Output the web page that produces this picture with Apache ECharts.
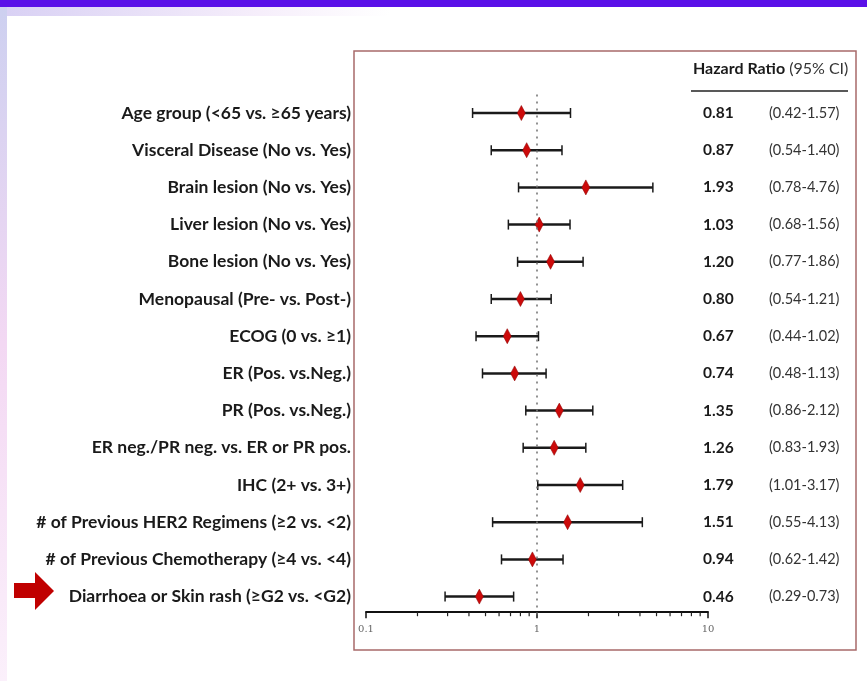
<!DOCTYPE html>
<html><head><meta charset="utf-8">
<script src="https://cdn.jsdelivr.net/npm/echarts@6/dist/echarts.min.js"></script>
<style>html,body{margin:0;padding:0;background:#fff}#c{width:867px;height:681px}</style>
</head><body><div id="c"></div>
<script>
const categories = [
  "Age group (<65 vs. \u226565 years)",
  "Visceral Disease (No vs. Yes)",
  "Brain lesion (No vs. Yes)",
  "Liver lesion (No vs. Yes)",
  "Bone lesion (No vs. Yes)",
  "Menopausal (Pre- vs. Post-)",
  "ECOG (0 vs. \u22651)",
  "ER (Pos. vs.Neg.)",
  "PR (Pos. vs.Neg.)",
  "ER neg./PR neg. vs. ER or PR pos.",
  "IHC (2+ vs. 3+)",
  "# of Previous HER2 Regimens (\u22652 vs. <2)",
  "# of Previous Chemotherapy (\u22654 vs. <4)",
  "Diarrhoea or Skin rash (\u2265G2 vs. <G2)"
];
const hazardRatio = [0.81, 0.87, 1.93, 1.03, 1.20, 0.80, 0.67, 0.74, 1.35, 1.26, 1.79, 1.51, 0.94, 0.46];
const ciLow  = [0.42, 0.54, 0.78, 0.68, 0.77, 0.54, 0.44, 0.48, 0.86, 0.83, 1.01, 0.55, 0.62, 0.29];
const ciHigh = [1.57, 1.40, 4.76, 1.56, 1.86, 1.21, 1.02, 1.13, 2.12, 1.93, 3.17, 4.13, 1.42, 0.73];
const xTickLabels = ["0.1", "1", "10"];
const minorTickValues = [0.2,0.3,0.4,0.5,0.6,0.7,0.8,0.9,2,3,4,5,6,7,8,9];
const headerBold = "Hazard Ratio";
const headerRest = " (95% CI)";

const chart = echarts.init(document.getElementById('c'), null, {renderer:'canvas'});
const FONT = 'Lato';
const AXIS_OFF = -3;

const option = {
  animation: false,
  backgroundColor: '#ffffff',
  grid: { left: 366, right: 159, top: 94.4, height: 520.8 },
  xAxis: {
    type: 'log', logBase: 10, min: 0.1, max: 10, interval: 1,
    offset: AXIS_OFF,
    axisLine: { show: true, lineStyle: { color: '#111', width: 2 } },
    axisTick: { show: true, length: 6, lineStyle: { color: '#111', width: 1.5 } },
    axisLabel: { margin: 12, color: '#666', fontSize: 10, fontFamily: 'DejaVu Serif',
      formatter: function (v) { const e = Math.round(Math.log10(v)) + 1; return xTickLabels[e] || ''; } },
    splitLine: { show: false }, minorTick: { show: false }
  },
  yAxis: {
    type: 'category', inverse: true, data: categories,
    axisLine: { show: false }, axisTick: { show: false }, splitLine: { show: false },
    axisLabel: { margin: 15, color: '#1a1a1a', fontSize: 17.5, fontWeight: 'bold', fontFamily: FONT }
  },
  graphic: [
    { type: 'rect', shape: { x: 0, y: 0, width: 867, height: 7 }, style: { fill: '#5a10e8' }, z: 1 },
    { type: 'rect', shape: { x: 0, y: 7, width: 867, height: 9 },
      style: { fill: new echarts.graphic.LinearGradient(0, 0, 1, 0, [
        { offset: 0, color: '#d8d0f4' }, { offset: 0.3, color: '#f6eefb' }, { offset: 0.45, color: '#ffffff' }]) }, z: 1 },
    { type: 'rect', shape: { x: 0, y: 7, width: 7, height: 674 },
      style: { fill: new echarts.graphic.LinearGradient(0, 0, 0, 1, [
        { offset: 0, color: '#cdd0f0' }, { offset: 0.5, color: '#f3d8f3' }, { offset: 1, color: '#fbf0fb' }]) }, z: 1 },
    { type: 'rect', shape: { x: 354, y: 51, width: 502, height: 599 },
      style: { fill: 'none', stroke: '#a86a6a', lineWidth: 1.5 }, z: 2 },
    { type: 'text', left: 693, top: 61, z: 3,
      style: { text: '{b|' + headerBold + '}{n|' + headerRest + '}',
        rich: { b: { fontFamily: FONT, fontWeight: 'bold', fontSize: 16, fill: '#1a1a1a' },
                n: { fontFamily: FONT, fontSize: 16, fill: '#333' } } } },
    { type: 'line', shape: { x1: 691, y1: 91, x2: 848, y2: 91 }, style: { stroke: '#222', lineWidth: 1.5 }, z: 3 },
    { type: 'polygon', z: 3,
      shape: { points: [[14,583],[35,583],[35,572],[54,591],[35,610],[35,598],[14,598]] },
      style: { fill: '#c00000' } }
  ],
  series: [
    {
      type: 'custom', name: 'ci', z: 3,
      data: categories.map((c, i) => [i, ciLow[i], ciHigh[i]]),
      encode: { x: [1, 2], y: 0 },
      renderItem: function (params, api) {
        const i = api.value(0);
        const a = api.coord([api.value(1), i]);
        const b = api.coord([api.value(2), i]);
        const h = 5;
        return { type: 'group', children: [
          { type: 'line', shape: { x1: a[0], y1: a[1], x2: b[0], y2: b[1] }, style: { stroke: '#1a1a1a', lineWidth: 2.5 } },
          { type: 'line', shape: { x1: a[0], y1: a[1]-h, x2: a[0], y2: a[1]+h }, style: { stroke: '#1a1a1a', lineWidth: 1.5 } },
          { type: 'line', shape: { x1: b[0], y1: b[1]-h, x2: b[0], y2: b[1]+h }, style: { stroke: '#1a1a1a', lineWidth: 1.5 } }
        ]};
      }
    },
    {
      type: 'scatter', name: 'hr', z: 4,
      symbol: 'diamond', symbolSize: [8, 15],
      itemStyle: { color: '#cc0a0a', borderColor: '#8a0000', borderWidth: 0.5, opacity: 1 },
      data: hazardRatio.map((v, i) => [v, i]),
      markLine: {
        silent: true, symbol: 'none', label: { show: false },
        lineStyle: { type: [2, 5], color: '#777', width: 1.6 },
        data: [{ xAxis: 1 }]
      }
    },
    {
      type: 'custom', name: 'minorTicks', z: 3, silent: true,
      data: minorTickValues.map(v => [v, 0]),
      encode: { x: 0, y: 1 },
      renderItem: function (params, api) {
        const cs = params.coordSys;
        const x = api.coord([api.value(0), 0])[0];
        const y = cs.y + cs.height + AXIS_OFF;
        return { type: 'line', shape: { x1: x, y1: y, x2: x, y2: y + 4 }, style: { stroke: '#222', lineWidth: 1.2 } };
      }
    },
    {
      type: 'custom', name: 'table', z: 3, silent: true,
      data: categories.map((c, i) => [i, hazardRatio[i], ciLow[i], ciHigh[i]]),
      encode: { y: 0 },
      renderItem: function (params, api) {
        const i = api.value(0);
        const p = api.coord([10, i]);
        return { type: 'group', children: [
          { type: 'text', x: p[0] - 5, y: p[1], style: { text: api.value(1).toFixed(2), fontFamily: FONT, fontWeight: 'bold', fontSize: 15.5, fill: '#1a1a1a', verticalAlign: 'middle', align: 'left' } },
          { type: 'text', x: p[0] + 61, y: p[1], style: { text: '(' + api.value(2).toFixed(2) + '-' + api.value(3).toFixed(2) + ')', fontFamily: FONT, fontSize: 14.5, fill: '#333', verticalAlign: 'middle', align: 'left' } }
        ]};
      }
    }
  ]
};
chart.setOption(option);
</script>
</body></html>
